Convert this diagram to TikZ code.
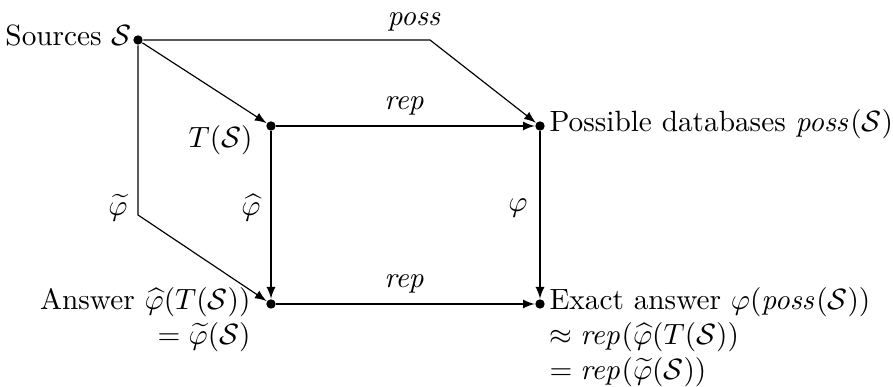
\documentclass[tikz,border=0pt]{standalone}
\usepackage{amsmath,amssymb}
\usetikzlibrary{calc}
\newcommand{\possop}{\mathit{poss}}
\newcommand{\repop}{\mathit{rep}}

\begin{document}
\begin{tikzpicture}
        [
            x=0.012cm, y=-0.012cm,
            dot/.style={circle, fill=black, inner sep=0pt, minimum size=3.2pt},
            map/.style={-latex, thin},
            lbl/.style={inner sep=1pt}
        ]
        \useasboundingbox (0,0) rectangle (893,387);

        % corners of the cube
        \node[dot] (src)   at (138,40)  {};
        \node[dot] (ts)    at (271,126) {};
        \node[dot] (poss)  at (540,126) {};
        \node[dot] (ans)   at (271,304) {};
        \node[dot] (exact) at (540,304) {};
        \coordinate (bend-p) at (430,40);
        \coordinate (bend-t) at (138,215);

        \node[lbl, anchor=base east] at (135,46) {Sources $\mathcal{S}$};
        \node[lbl, anchor=base east] at (256,148) {$T(\mathcal{S})$};
        \node[lbl, anchor=base west] at (546,132) {Possible databases $\possop(\mathcal{S})$};
        \node[lbl, anchor=north east, align=right] at (254,284)
            {Answer $\widehat{\varphi}(T(\mathcal{S}))$\\ $=\widetilde{\varphi}(\mathcal{S})$\hspace{3pt}};
        \node[lbl, anchor=north west, align=left] at (546,284)
            {Exact answer $\varphi(\possop(\mathcal{S}))$\\
             $\approx \repop(\widehat{\varphi}(T(\mathcal{S}))$\\
             $=\repop(\widetilde{\varphi}(\mathcal{S}))$};

        \draw[map] (src) -- (bend-p) -- (poss);
        \draw[map] (src) -- (ts);
        \draw[map] (src) -- (bend-t) -- (ans);
        \draw[map] (ts) -- (poss);
        \draw[map] (ts) -- (ans);
        \draw[map] (poss) -- (exact);
        \draw[map] (ans) -- (exact);

        % arrow labels
        \node[lbl] at (415,22)  {$\possop$};
        \node[lbl] at (405,106) {$\repop$};
        \node[lbl] at (405,284) {$\repop$};
        \node[lbl] at (118,208) {$\widetilde{\varphi}$};
        \node[lbl] at (251,208) {$\widehat{\varphi}$};
        \node[lbl] at (518,208) {$\varphi$};
\end{tikzpicture}
\end{document}
